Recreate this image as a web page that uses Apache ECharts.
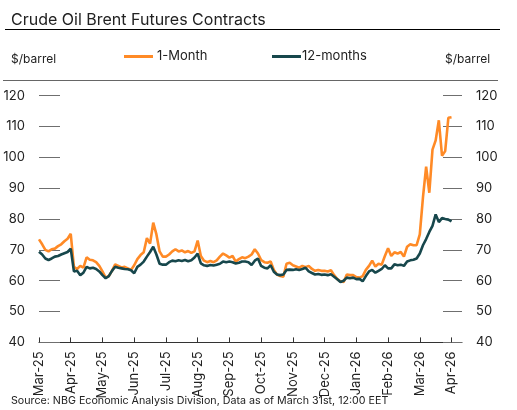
<!DOCTYPE html>
<html>
<head>
<meta charset="utf-8">
<script src="https://cdn.jsdelivr.net/npm/echarts@6/dist/echarts.min.js"></script>
<style>
  html, body { margin: 0; padding: 0; background: #fff; }
  #main { width: 517px; height: 410px; }
</style>
</head>
<body>
<div id="main"></div>
<script>
// month tick labels (x axis, one tick per month)
var MONTHS = ['Mar-25', 'Apr-25', 'May-25', 'Jun-25', 'Jul-25', 'Aug-25', 'Sep-25',
              'Oct-25', 'Nov-25', 'Dec-25', 'Jan-26', 'Feb-26', 'Mar-26', 'Apr-26'];

// readings every 1/10 of a month, starting early March 2025
var STEP = 0.1;

// 1-Month contract, $/barrel
var oneMonth = [
  73.4, 71.8, 70.0, 69.5, 70.2, 70.4, 71.2, 71.8, 72.8, 73.6,
  75.2, 64.5, 63.8, 64.8, 64.2, 67.6, 66.8, 66.6, 66.0, 64.8,
  63.0, 61.0, 61.5, 63.2, 65.3, 64.8, 64.3, 64.5, 64.0, 63.5,
  65.0, 67.0, 68.3, 69.2, 73.8, 72.0, 78.8, 75.0, 69.5, 67.8,
  67.8, 68.5, 69.5, 70.2, 69.5, 69.8, 69.2, 69.6, 69.0, 69.5,
  73.0, 68.0, 66.5, 66.0, 66.4, 66.0, 66.6, 67.8, 68.8, 68.2,
  67.5, 68.0, 66.2, 67.0, 67.6, 67.3, 67.8, 68.5, 70.2, 68.8,
  66.7, 66.0, 65.8, 66.2, 63.5, 62.0, 61.5, 61.3, 65.5, 65.8,
  65.0, 64.6, 64.2, 64.8, 64.4, 64.8, 63.8, 63.2, 63.5, 63.2,
  63.2, 63.0, 63.4, 61.8, 60.5, 59.8, 59.6, 62.0, 61.8, 61.8,
  61.2, 61.0, 61.5, 63.5, 64.8, 66.5, 64.6, 65.5, 65.2, 68.0,
  70.5, 68.0, 69.2, 68.8, 69.3, 67.8, 71.0, 71.8, 71.5, 71.5,
  75.0, 87.0, 97.0, 88.5, 102.5, 105.5, 112.0, 100.5, 102.0, 112.8,
  113.0
];

// 12-months contract, $/barrel
var twelveMonths = [
  69.4, 68.5, 67.2, 66.7, 67.2, 67.8, 68.0, 68.5, 68.9, 69.3,
  70.4, 63.0, 63.2, 61.8, 62.6, 64.5, 64.0, 64.2, 63.8, 63.0,
  61.8, 60.8, 61.5, 63.2, 64.5, 64.2, 64.0, 63.8, 63.7, 63.4,
  62.4, 64.5, 65.2, 66.2, 67.8, 69.3, 71.0, 68.5, 65.5, 65.2,
  65.2, 66.0, 66.5, 66.3, 66.6, 66.4, 66.7, 66.3, 66.6, 67.5,
  68.8, 65.6, 65.0, 64.8, 65.1, 64.9, 65.2, 65.5, 66.2, 66.0,
  66.2, 66.0, 65.6, 65.8, 66.2, 66.2, 66.0, 65.1, 66.5, 67.2,
  64.8, 64.2, 64.0, 65.0, 62.9, 62.0, 61.8, 62.0, 63.5, 63.6,
  63.5, 63.7, 63.5, 63.8, 64.2, 63.0, 62.5, 62.0, 62.2, 61.9,
  62.0, 61.8, 62.1, 61.3, 60.5, 59.6, 60.0, 61.0, 60.8, 61.0,
  60.5, 60.6, 59.8, 61.5, 63.0, 63.5, 62.6, 63.2, 63.8, 65.0,
  64.0, 64.0, 65.3, 65.0, 65.2, 64.8, 66.2, 66.6, 66.8, 67.2,
  68.8, 71.5, 73.5, 75.8, 77.8, 81.5, 79.0, 80.3, 80.0, 79.8,
  79.2
];

var ORANGE = '#FF8A26';
var TEAL = '#17474C';
var FONT = 'Inter, "Liberation Sans", sans-serif';

function toPairs(arr) {
  return arr.map(function (v, i) { return [i * STEP, v]; });
}

var monthTicks = MONTHS.map(function (m, i) { return i; });

var yAxisBase = {
  type: 'value',
  min: 40,
  max: 120,
  interval: 10,
  axisLine: { show: false },
  splitLine: { show: false },
  axisTick: { show: true, inside: true, lineStyle: { color: '#6f6f6f', width: 1 } },
  axisLabel: { color: '#222', fontSize: 13, fontFamily: FONT, margin: 14 }
};

var chart = echarts.init(document.getElementById('main'));
chart.setOption({
  backgroundColor: '#fff',
  animation: false,
  title: [
    { text: 'Crude Oil Brent Futures Contracts', left: 11, top: 12, padding: 0,
      textStyle: { fontSize: 16, fontWeight: 'normal', color: '#222', fontFamily: FONT } },
    { text: '$/barrel', left: 11, top: 53, padding: 0,
      textStyle: { fontSize: 12, fontWeight: 'normal', color: '#222', fontFamily: FONT } },
    { text: '$/barrel', left: 445, top: 53, padding: 0,
      textStyle: { fontSize: 12, fontWeight: 'normal', color: '#222', fontFamily: FONT } },
    { text: 'Source: NBG Economic Analysis Division, Data as of March 31st, 12:00 EET',
      left: 11, top: 395, padding: 0,
      textStyle: { fontSize: 10.7, fontWeight: 'normal', color: '#222', fontFamily: FONT } }
  ],
  legend: [
    { data: ['1-Month'], left: 124, top: 50, padding: 0, icon: 'rect', itemWidth: 29, itemHeight: 3, itemGap: 0,
      textStyle: { fontSize: 13, color: '#222', fontFamily: FONT, padding: [0, 0, 0, -1] } },
    { data: ['12-months'], left: 272, top: 50, padding: 0, icon: 'rect', itemWidth: 29, itemHeight: 3, itemGap: 0,
      textStyle: { fontSize: 13, color: '#222', fontFamily: FONT, padding: [0, 0, 0, -4] } }
  ],
  graphic: [
    { type: 'line', shape: { x1: 5, y1: 29.5, x2: 500, y2: 29.5 }, style: { stroke: '#000', lineWidth: 1 } },
    { type: 'line', shape: { x1: 3, y1: 80.5, x2: 498, y2: 80.5 }, style: { stroke: '#666', lineWidth: 1.2 } }
  ],
  grid: { left: 39, right: 55, top: 95.6, bottom: 67.6 },
  xAxis: {
    type: 'value',
    min: 0,
    max: 13.33,
    splitLine: { show: false },
    axisLine: { show: true, lineStyle: { color: '#333', width: 1 } },
    axisTick: { show: true, inside: true, length: 5, customValues: monthTicks,
                lineStyle: { color: '#333', width: 1 } },
    axisLabel: {
      customValues: monthTicks,
      rotate: 90,
      margin: 9,
      color: '#222',
      fontSize: 13,
      fontFamily: FONT,
      formatter: function (v) { return MONTHS[Math.round(v)] || ''; }
    }
  },
  yAxis: [
    Object.assign({}, yAxisBase, {
      position: 'left',
      axisTick: Object.assign({}, yAxisBase.axisTick, { length: 21 })
    }),
    Object.assign({}, yAxisBase, {
      position: 'right',
      axisTick: Object.assign({}, yAxisBase.axisTick, { length: 19 })
    })
  ],
  series: [
    {
      name: '1-Month',
      type: 'line',
      data: toPairs(oneMonth),
      showSymbol: false,
      symbol: 'none',
      color: ORANGE,
      lineStyle: { color: ORANGE, width: 2.6 },
      z: 2
    },
    {
      name: '12-months',
      type: 'line',
      data: toPairs(twelveMonths),
      showSymbol: false,
      symbol: 'none',
      color: TEAL,
      lineStyle: { color: TEAL, width: 2.6 },
      z: 3
    }
  ]
});
</script>
</body>
</html>
